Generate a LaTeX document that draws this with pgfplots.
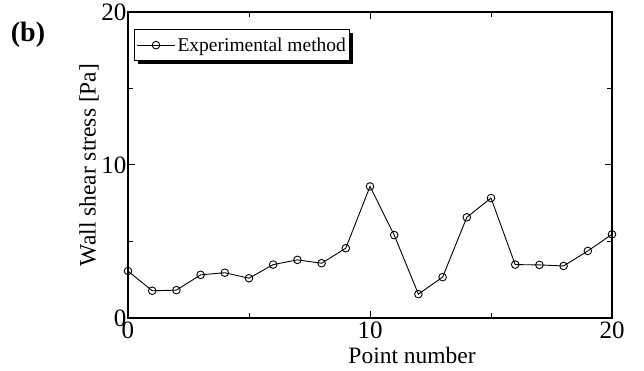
\documentclass[border=0pt]{standalone}
\usepackage{fontspec}
\setmainfont{Liberation Serif}
\usepackage{pgfplots}
\pgfplotsset{compat=1.18}
\usetikzlibrary{shadows}
\makeatletter
\tikzset{no preactions/.code={\let\tikz@preactions\pgfutil@empty}}
\makeatother
\begin{document}
\begin{tikzpicture}
\useasboundingbox (-128pt,-53pt) rectangle (516pt,318pt);
\begin{axis}[
  at={(0,0)}, anchor=south west,
  scale only axis, width=484pt, height=306pt,
  xmin=0, xmax=20, ymin=0, ymax=20,
  xtick={0,10,20}, ytick={0,10,20},
  minor xtick={5,15}, minor ytick={5,15},
  tick align=inside,
  major tick length=7pt, minor tick length=5pt,
  axis line style={line width=1.1pt},
  every tick/.style={line width=1pt, black},
  /pgf/number format/assume math mode=true,
  tick label style={font=\fontsize{25}{27}\selectfont, inner sep=0pt},
  xticklabel style={yshift=-4pt},
  yticklabel style={xshift=-1.5pt},
  xlabel={Point number},
  ylabel={Wall shear stress [Pa]},
  label style={font=\fontsize{23.5}{26}\selectfont},
  xlabel style={at={(axis description cs:0.587,-0.121)}, anchor=center},
  ylabel style={at={(axis description cs:-0.0806,0.5)}, anchor=center},
  legend style={at={(axis description cs:0.0124,0.944)}, anchor=north west,
    draw=black, line width=1pt, fill=white,
    font=\fontsize{19.5}{22}\selectfont, inner xsep=2pt, inner ysep=6pt,
    drop shadow={shadow xshift=3pt, shadow yshift=-3pt, fill=black, opacity=1}},
  legend cell align=left,
  legend image code/.code={\draw[no preactions, #1, line width=0.9pt, mark repeat=2, mark phase=2] plot coordinates {(0cm,0cm) (0.67cm,0cm) (1.34cm,0cm)};},
]
\addplot[black, line width=0.9pt, mark=o, mark size=3.8pt, mark options={fill=white, line width=0.9pt}] coordinates {
(0,3.07) (1,1.78) (2,1.82) (3,2.82) (4,2.96) (5,2.6) (6,3.49) (7,3.8) (8,3.58) (9,4.56)
(10,8.6) (11,5.42) (12,1.56) (13,2.67) (14,6.58) (15,7.84) (16,3.49) (17,3.47) (18,3.4) (19,4.38) (20,5.47)
};
\addlegendentry{Experimental method}
\end{axis}
\node[font=\bfseries\fontsize{28}{30}\selectfont] at (-100pt,283pt) {(b)};
\end{tikzpicture}
\end{document}
